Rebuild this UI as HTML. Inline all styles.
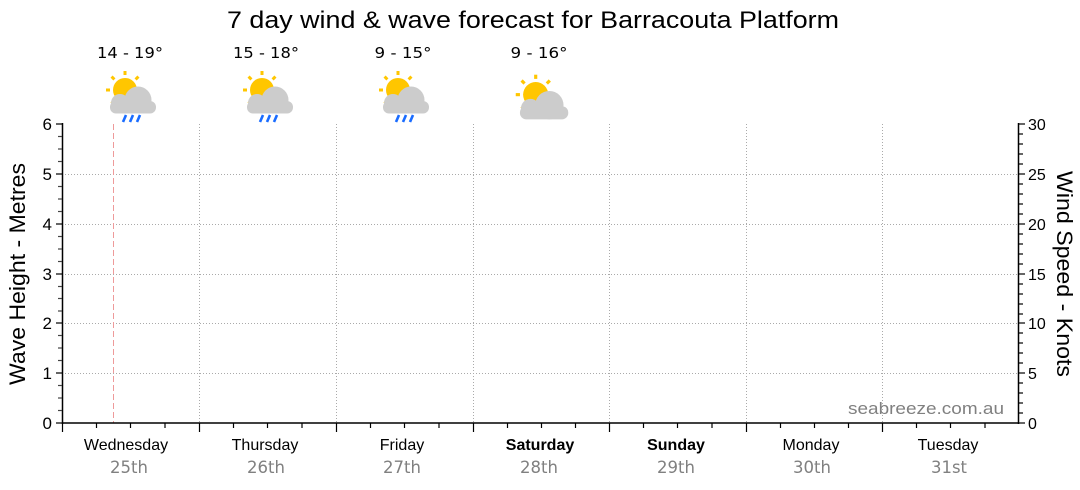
<!DOCTYPE html>
<html><head><meta charset="utf-8"><style>
html,body{margin:0;padding:0;background:#fff;}
svg{display:block;}
.ls{font-family:"Liberation Sans",sans-serif;}
.dv{font-family:"DejaVu Sans",sans-serif;}
</style></head><body>
<svg width="1080" height="490" viewBox="0 0 1080 490" xmlns="http://www.w3.org/2000/svg">
<defs>
<g id="sun">
  <circle cx="-6" cy="-7" r="12" fill="#FFC600"/>
  <g fill="#FFC600">
    <rect x="-7.5" y="-26" width="3" height="4"/>
    <rect x="-7.5" y="-26" width="3" height="4" transform="rotate(-45 -6 -7)"/>
    <rect x="-7.5" y="-26" width="3" height="4" transform="rotate(-90 -6 -7)"/>
    <rect x="-7.5" y="-26" width="3" height="4" transform="rotate(-135 -6 -7)"/>
    <rect x="-7.5" y="-26" width="3" height="4" transform="rotate(45 -6 -7)"/>
    <rect x="-7.5" y="-26" width="3" height="4" transform="rotate(90 -6 -7)"/>
  </g>
</g>
<g id="cloud" fill="#CCCCCC">
  <circle cx="-11" cy="6" r="9"/>
  <circle cx="7" cy="3" r="13.5"/>
  <rect x="-21" y="4" width="46" height="12.5" rx="6"/>
</g>
<g id="rain" stroke="#1A6CFF" stroke-width="2.6">
  <line x1="-5" y1="18" x2="-8" y2="25"/>
  <line x1="2" y1="18" x2="-1" y2="25"/>
  <line x1="9" y1="18" x2="6" y2="25"/>
</g>
<g id="rainicon"><use href="#sun"/><use href="#cloud"/><use href="#rain"/></g>
</defs>

<!-- Title -->
<text class="ls" x="533" y="28" font-size="24" text-anchor="middle" textLength="612" lengthAdjust="spacingAndGlyphs">7 day wind &amp; wave forecast for Barracouta Platform</text>

<!-- Temps -->
<g class="dv" font-size="15" text-anchor="middle">
  <text class="dv" x="130" y="58" textLength="66" lengthAdjust="spacingAndGlyphs">14 - 19°</text>
  <text class="dv" x="266" y="58" textLength="66" lengthAdjust="spacingAndGlyphs">15 - 18°</text>
  <text class="dv" x="403" y="58" textLength="57" lengthAdjust="spacingAndGlyphs">9 - 15°</text>
  <text class="dv" x="539" y="58" textLength="57" lengthAdjust="spacingAndGlyphs">9 - 16°</text>
</g>

<!-- Icons -->
<use href="#rainicon" transform="translate(131,97)"/>
<use href="#rainicon" transform="translate(268,97)"/>
<use href="#rainicon" transform="translate(404,97)"/>
<g transform="translate(542,102) scale(1.05)"><use href="#sun"/><use href="#cloud"/></g>

<!-- Grid -->
<g stroke="#aaa" stroke-width="1" stroke-dasharray="1,2">
  <line x1="62" y1="174.5" x2="1019" y2="174.5"/>
  <line x1="62" y1="224.5" x2="1019" y2="224.5"/>
  <line x1="62" y1="274.5" x2="1019" y2="274.5"/>
  <line x1="62" y1="323.5" x2="1019" y2="323.5"/>
  <line x1="62" y1="373.5" x2="1019" y2="373.5"/>
  <line x1="199.5" y1="124" x2="199.5" y2="423"/>
  <line x1="336.5" y1="124" x2="336.5" y2="423"/>
  <line x1="473.5" y1="124" x2="473.5" y2="423"/>
  <line x1="609.5" y1="124" x2="609.5" y2="423"/>
  <line x1="746.5" y1="124" x2="746.5" y2="423"/>
  <line x1="882.5" y1="124" x2="882.5" y2="423"/>
</g>

<!-- now line -->
<line x1="113.5" y1="124" x2="113.5" y2="423" stroke="#EE9A9A" stroke-width="1" stroke-dasharray="6,3"/>

<!-- watermark -->
<text class="ls" x="1004" y="414" font-size="17" fill="#808080" text-anchor="end" textLength="156" lengthAdjust="spacingAndGlyphs">seabreeze.com.au</text>

<!-- Axes -->
<g stroke="#000" stroke-width="1.5">
  <line x1="62.5" y1="123" x2="62.5" y2="424"/>
  <line x1="1018.5" y1="123" x2="1018.5" y2="424"/>
  <line x1="62" y1="423" x2="1019" y2="423"/>
</g>

<!-- Left ticks -->
<g stroke="#000" stroke-width="1.2">
  <line x1="56" y1="124" x2="62" y2="124"/>
  <line x1="56" y1="174" x2="62" y2="174"/>
  <line x1="56" y1="224" x2="62" y2="224"/>
  <line x1="56" y1="274" x2="62" y2="274"/>
  <line x1="56" y1="323" x2="62" y2="323"/>
  <line x1="56" y1="373" x2="62" y2="373"/>
  <line x1="56" y1="423" x2="62" y2="423"/>
</g>
<g stroke="#444" stroke-width="1.2">
  <line x1="58" y1="136.5" x2="62" y2="136.5"/><line x1="58" y1="149" x2="62" y2="149"/><line x1="58" y1="161.5" x2="62" y2="161.5"/>
  <line x1="58" y1="186.5" x2="62" y2="186.5"/><line x1="58" y1="199" x2="62" y2="199"/><line x1="58" y1="211.5" x2="62" y2="211.5"/>
  <line x1="58" y1="236.5" x2="62" y2="236.5"/><line x1="58" y1="249" x2="62" y2="249"/><line x1="58" y1="261.5" x2="62" y2="261.5"/>
  <line x1="58" y1="286.5" x2="62" y2="286.5"/><line x1="58" y1="298.5" x2="62" y2="298.5"/><line x1="58" y1="311" x2="62" y2="311"/>
  <line x1="58" y1="335.5" x2="62" y2="335.5"/><line x1="58" y1="348" x2="62" y2="348"/><line x1="58" y1="360.5" x2="62" y2="360.5"/>
  <line x1="58" y1="385.5" x2="62" y2="385.5"/><line x1="58" y1="398" x2="62" y2="398"/><line x1="58" y1="410.5" x2="62" y2="410.5"/>
</g>
<g class="ls" font-size="17" text-anchor="end">
  <text x="52" y="130">6</text>
  <text x="52" y="180">5</text>
  <text x="52" y="230">4</text>
  <text x="52" y="280">3</text>
  <text x="52" y="329">2</text>
  <text x="52" y="379">1</text>
  <text x="52" y="429">0</text>
</g>

<!-- Right ticks -->
<g stroke="#000" stroke-width="1.2">
  <line x1="1019" y1="124" x2="1025" y2="124"/><line x1="1019" y1="134" x2="1023" y2="134"/><line x1="1019" y1="144" x2="1023" y2="144"/><line x1="1019" y1="154" x2="1023" y2="154"/><line x1="1019" y1="164" x2="1023" y2="164"/>
  <line x1="1019" y1="174" x2="1025" y2="174"/><line x1="1019" y1="184" x2="1023" y2="184"/><line x1="1019" y1="194" x2="1023" y2="194"/><line x1="1019" y1="204" x2="1023" y2="204"/><line x1="1019" y1="214" x2="1023" y2="214"/>
  <line x1="1019" y1="224" x2="1025" y2="224"/><line x1="1019" y1="234" x2="1023" y2="234"/><line x1="1019" y1="244" x2="1023" y2="244"/><line x1="1019" y1="254" x2="1023" y2="254"/><line x1="1019" y1="264" x2="1023" y2="264"/>
  <line x1="1019" y1="274" x2="1025" y2="274"/><line x1="1019" y1="284" x2="1023" y2="284"/><line x1="1019" y1="294" x2="1023" y2="294"/><line x1="1019" y1="304" x2="1023" y2="304"/><line x1="1019" y1="314" x2="1023" y2="314"/>
  <line x1="1019" y1="323" x2="1025" y2="323"/><line x1="1019" y1="333" x2="1023" y2="333"/><line x1="1019" y1="343" x2="1023" y2="343"/><line x1="1019" y1="353" x2="1023" y2="353"/><line x1="1019" y1="363" x2="1023" y2="363"/>
  <line x1="1019" y1="373" x2="1025" y2="373"/><line x1="1019" y1="383" x2="1023" y2="383"/><line x1="1019" y1="393" x2="1023" y2="393"/><line x1="1019" y1="403" x2="1023" y2="403"/><line x1="1019" y1="413" x2="1023" y2="413"/>
  <line x1="1019" y1="423" x2="1025" y2="423"/>
</g>
<g class="ls" font-size="16" text-anchor="start">
  <text x="1028" y="130">30</text>
  <text x="1028" y="180">25</text>
  <text x="1028" y="230">20</text>
  <text x="1028" y="280">15</text>
  <text x="1028" y="329">10</text>
  <text x="1028" y="379">5</text>
  <text x="1028" y="429">0</text>
</g>

<!-- Bottom ticks -->
<g stroke="#000" stroke-width="1.2">
  <line x1="62.5" y1="423" x2="62.5" y2="432"/>
  <line x1="199.5" y1="423" x2="199.5" y2="432"/>
  <line x1="336.5" y1="423" x2="336.5" y2="432"/>
  <line x1="473.5" y1="423" x2="473.5" y2="432"/>
  <line x1="609.5" y1="423" x2="609.5" y2="432"/>
  <line x1="746.5" y1="423" x2="746.5" y2="432"/>
  <line x1="882.5" y1="423" x2="882.5" y2="432"/>
  <line x1="96.5" y1="423" x2="96.5" y2="428"/><line x1="130.5" y1="423" x2="130.5" y2="428"/><line x1="165" y1="423" x2="165" y2="428"/>
  <line x1="233.5" y1="423" x2="233.5" y2="428"/><line x1="267.5" y1="423" x2="267.5" y2="428"/><line x1="302" y1="423" x2="302" y2="428"/>
  <line x1="370.5" y1="423" x2="370.5" y2="428"/><line x1="404.5" y1="423" x2="404.5" y2="428"/><line x1="439" y1="423" x2="439" y2="428"/>
  <line x1="507.5" y1="423" x2="507.5" y2="428"/><line x1="541.5" y1="423" x2="541.5" y2="428"/><line x1="575.5" y1="423" x2="575.5" y2="428"/>
  <line x1="643.5" y1="423" x2="643.5" y2="428"/><line x1="677.5" y1="423" x2="677.5" y2="428"/><line x1="712" y1="423" x2="712" y2="428"/>
  <line x1="780.5" y1="423" x2="780.5" y2="428"/><line x1="814.5" y1="423" x2="814.5" y2="428"/><line x1="848.5" y1="423" x2="848.5" y2="428"/>
  <line x1="916.5" y1="423" x2="916.5" y2="428"/><line x1="950.5" y1="423" x2="950.5" y2="428"/><line x1="985" y1="423" x2="985" y2="428"/>
</g>

<!-- Day labels -->
<g class="ls" font-size="16" text-anchor="middle">
  <text x="126" y="450">Wednesday</text>
  <text x="265" y="450">Thursday</text>
  <text x="402" y="450">Friday</text>
  <text x="540" y="450" font-weight="bold">Saturday</text>
  <text x="676" y="450" font-weight="bold">Sunday</text>
  <text x="811" y="450">Monday</text>
  <text x="948" y="450">Tuesday</text>
</g>
<g class="dv" font-size="17" text-anchor="middle" fill="#808080">
  <text x="129" y="473" textLength="38" lengthAdjust="spacingAndGlyphs">25th</text>
  <text x="266" y="473" textLength="38" lengthAdjust="spacingAndGlyphs">26th</text>
  <text x="402" y="473" textLength="38" lengthAdjust="spacingAndGlyphs">27th</text>
  <text x="539" y="473" textLength="38" lengthAdjust="spacingAndGlyphs">28th</text>
  <text x="676" y="473" textLength="38" lengthAdjust="spacingAndGlyphs">29th</text>
  <text x="812" y="473" textLength="38" lengthAdjust="spacingAndGlyphs">30th</text>
  <text x="949" y="473" textLength="36" lengthAdjust="spacingAndGlyphs">31st</text>
</g>

<!-- Axis titles -->
<text class="ls" transform="translate(25,274) rotate(-90)" font-size="22" text-anchor="middle" textLength="222" lengthAdjust="spacingAndGlyphs">Wave Height - Metres</text>
<text class="ls" transform="translate(1057,274) rotate(90)" font-size="22" text-anchor="middle" textLength="206" lengthAdjust="spacingAndGlyphs">Wind Speed - Knots</text>
</svg>
</body></html>
